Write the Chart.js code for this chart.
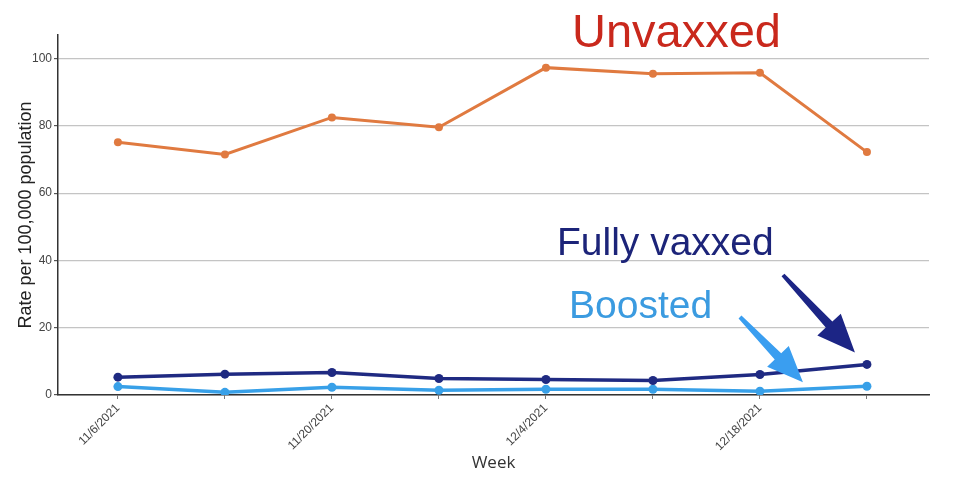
<!DOCTYPE html>
<html>
<head>
<meta charset="utf-8">
<script src="https://cdn.jsdelivr.net/npm/chart.js@4"></script>
<style>
  html, body { margin: 0; padding: 0; background: #fff; }
  #wrap { width: 971px; height: 484px; position: relative; }
</style>
</head>
<body>
<div id="wrap"><canvas id="rateChart"></canvas></div>
<script>
// weekly categories (only every other one gets a label on the axis)
const weeks = ["11/6/2021", "11/13/2021", "11/20/2021", "11/27/2021",
               "12/4/2021", "12/11/2021", "12/18/2021", "12/25/2021"];

// rate per 100,000 population
const unvaxxed    = [75.1, 71.5, 82.5, 79.6, 97.3, 95.5, 95.8, 72.2];
const fullyVaxxed = [5.3, 6.2, 6.7, 4.9, 4.6, 4.3, 6.1, 9.1];
const boosted     = [2.5, 0.8, 2.3, 1.4, 1.7, 1.7, 1.1, 2.6];

const yTicks = [0, 20, 40, 60, 80, 100];

// week index -> point
const toPoints = arr => arr.map((v, i) => ({ x: i, y: v }));

// draws a tapered arrow with a big triangular head
function drawArrow(ctx, x0, y0, x1, y1, color, headLen, headW, neckW, tailW) {
    const dx = x1 - x0, dy = y1 - y0;
    const len = Math.hypot(dx, dy);
    const ux = dx / len, uy = dy / len;
    const nx = -uy, ny = ux;
    const bx = x1 - ux * headLen, by = y1 - uy * headLen;
    ctx.save();
    ctx.fillStyle = color;
    ctx.beginPath();
    ctx.moveTo(x0 + nx * tailW / 2, y0 + ny * tailW / 2);
    ctx.lineTo(bx + nx * neckW / 2, by + ny * neckW / 2);
    ctx.lineTo(bx + nx * headW / 2, by + ny * headW / 2);
    ctx.lineTo(x1, y1);
    ctx.lineTo(bx - nx * headW / 2, by - ny * headW / 2);
    ctx.lineTo(bx - nx * neckW / 2, by - ny * neckW / 2);
    ctx.lineTo(x0 - nx * tailW / 2, y0 - ny * tailW / 2);
    ctx.closePath();
    ctx.fill();
    ctx.restore();
}

// labels and arrows painted on top of the chart
const annotations = {
    id: "annotations",
    afterDraw(chart) {
        const ctx = chart.ctx;
        const x = chart.scales.x, y = chart.scales.y;
        const last = weeks.length - 1;
        const px = x.getPixelForValue(last);

        ctx.save();
        ctx.textBaseline = "alphabetic";
        ctx.textAlign = "left";
        ctx.font = "47px 'Liberation Sans', Arial, sans-serif";
        ctx.fillStyle = "#c9281c";
        ctx.fillText("Unvaxxed", 572, 47);
        ctx.font = "39px 'Liberation Sans', Arial, sans-serif";
        ctx.fillStyle = "#1c2479";
        ctx.fillText("Fully vaxxed", 557, 255);
        ctx.fillStyle = "#3b9be0";
        ctx.fillText("Boosted", 569, 318);
        ctx.restore();

        const fy = y.getPixelForValue(fullyVaxxed[last]);
        drawArrow(ctx, 783, 275, px - 12, fy - 12, "#1c2585", 38, 32, 9, 4);
        const by = y.getPixelForValue(boosted[last]);
        drawArrow(ctx, 740, 317, px - 64, by - 4, "#3a9ef0", 36, 30, 9, 4);
    }
};

const ctx = document.getElementById("rateChart").getContext("2d");

const chart = new Chart(ctx, {
    type: "line",
    data: {
        datasets: [
            {
                label: "Unvaxxed",
                data: toPoints(unvaxxed),
                borderColor: "#e07a40",
                backgroundColor: "#e07a40",
                borderWidth: 3,
                pointRadius: 4,
                pointBorderWidth: 0
            },
            {
                label: "Fully vaxxed",
                data: toPoints(fullyVaxxed),
                borderColor: "#1f2a82",
                backgroundColor: "#1f2a82",
                borderWidth: 3.5,
                pointRadius: 4.5,
                pointBorderWidth: 0
            },
            {
                label: "Boosted",
                data: toPoints(boosted),
                borderColor: "#38a0e8",
                backgroundColor: "#38a0e8",
                borderWidth: 3.5,
                pointRadius: 4.5,
                pointBorderWidth: 0
            }
        ]
    },
    options: {
        responsive: true,
        maintainAspectRatio: false,
        animation: false,
        layout: { padding: { top: 35, right: 42, left: 0, bottom: 0 } },
        plugins: {
            legend: { display: false },
            tooltip: { enabled: false }
        },
        scales: {
            x: {
                type: "linear",
                min: -0.56,
                max: 7.58,
                afterBuildTicks(scale) {
                    scale.ticks = weeks.map((w, i) => ({ value: i }));
                },
                grid: {
                    display: true,
                    drawOnChartArea: false,
                    drawTicks: true,
                    tickLength: 4,
                    color: "#777"
                },
                border: { display: true, color: "#333", width: 1.5 },
                ticks: {
                    autoSkip: false,
                    maxRotation: 45,
                    minRotation: 45,
                    color: "#444",
                    padding: 2,
                    font: { family: "'Liberation Sans', Arial, sans-serif", size: 12 },
                    callback: (val) => (val % 2 === 0 ? weeks[val] : "")
                },
                title: {
                    display: true,
                    text: "Week",
                    color: "#333",
                    font: { family: "'Open Sans', sans-serif", size: 17 },
                    padding: { top: 0, bottom: 11 }
                },
                afterFit(scale) { scale.height = 89; }
            },
            y: {
                min: 0,
                max: 107,
                afterBuildTicks(scale) {
                    scale.ticks = yTicks.map(v => ({ value: v }));
                },
                grid: {
                    color: "#c4c4c4",
                    lineWidth: 1.2,
                    tickLength: 4,
                    tickColor: "#555"
                },
                border: { display: true, color: "#333", width: 1.5 },
                ticks: {
                    color: "#444",
                    padding: 2,
                    font: { family: "'Liberation Sans', Arial, sans-serif", size: 12 }
                },
                title: {
                    display: true,
                    text: "Rate per 100,000 population",
                    color: "#222",
                    font: { family: "'Liberation Sans', Arial, sans-serif", size: 18 },
                    padding: { top: 15, bottom: 0 }
                },
                afterFit(scale) { scale.width = 58; }
            }
        }
    },
    plugins: [annotations]
});
</script>
</body>
</html>
